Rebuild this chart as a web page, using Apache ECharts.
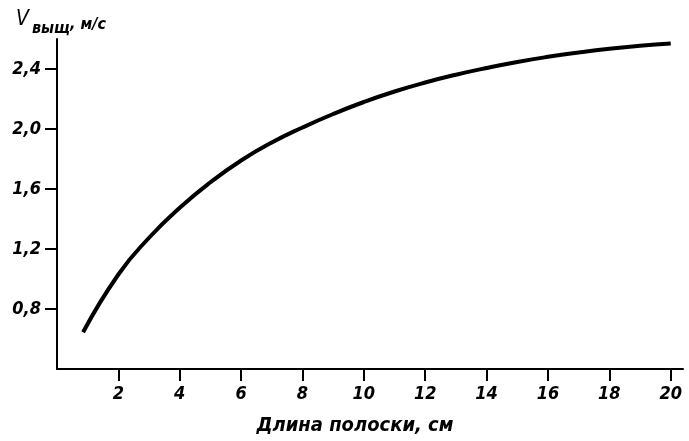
<!DOCTYPE html>
<html>
<head>
<meta charset="utf-8">
<script src="https://cdn.jsdelivr.net/npm/echarts@6/dist/echarts.min.js"></script>
<style>html,body{margin:0;padding:0;background:#fff}#c{width:689px;height:441px}</style>
</head>
<body>
<div id="c"></div>
<script>
const lengthCm = [0.85, 2, 3, 4, 5, 6, 7, 8, 9, 10, 11, 12, 13, 14, 15, 16, 17, 18, 19, 20];
const velocity = [0.645, 1.03, 1.275, 1.475, 1.645, 1.79, 1.91, 2.01, 2.1, 2.18, 2.25, 2.31, 2.362, 2.407, 2.447, 2.481, 2.51, 2.535, 2.555, 2.57];
const xTicks = [2, 4, 6, 8, 10, 12, 14, 16, 18, 20];
const yTicks = [0.8, 1.2, 1.6, 2.0, 2.4];
const xName = 'Длина полоски, см';

const FONT = '"DejaVu Sans Condensed", "DejaVu Sans", sans-serif';
const chart = echarts.init(document.getElementById('c'), null, {renderer: 'canvas'});
chart.setOption({
  animation: false,
  backgroundColor: '#fff',
  grid: {left: 57, right: 6, top: 39, bottom: 63, containLabel: false},
  xAxis: {
    type: 'value', min: 0, max: 20.4,
    name: xName, nameLocation: 'middle', nameGap: 47,
    nameTextStyle: {fontFamily: FONT, fontStyle: 'italic', fontWeight: 'bold', fontSize: 20, color: '#000', padding: [0, 30, 0, 0]},
    axisLine: {show: true, onZero: false, lineStyle: {color: '#000', width: 2}},
    axisTick: {show: true, customValues: xTicks, length: 12, lineStyle: {color: '#000', width: 2}},
    axisLabel: {customValues: xTicks, margin: 16, fontFamily: FONT, fontStyle: 'italic', fontWeight: 'bold', fontSize: 18, color: '#000',
      formatter: v => String(v)},
    splitLine: {show: false}
  },
  yAxis: {
    type: 'value', min: 0.4, max: 2.6,
    axisLine: {show: true, onZero: false, lineStyle: {color: '#000', width: 2}},
    axisTick: {show: true, customValues: yTicks, length: 12, lineStyle: {color: '#000', width: 2}},
    axisLabel: {customValues: yTicks, margin: 16, fontFamily: FONT, fontStyle: 'italic', fontWeight: 'bold', fontSize: 18, color: '#000',
      formatter: v => v.toFixed(1).replace('.', ',')},
    splitLine: {show: false}
  },
  graphic: [{
    type: 'text', left: 16, top: 9,
    style: {
      text: '{v|V}{s|выщ}{u|, м/с}',
      rich: {
        v: {fontFamily: FONT, fontStyle: 'italic', fontSize: 21, fill: '#000', verticalAlign: 'top'},
        s: {fontFamily: FONT, fontStyle: 'italic', fontWeight: 'bold', fontSize: 16, fill: '#000', padding: [12, 0, 0, 3]},
        u: {fontFamily: FONT, fontStyle: 'italic', fontWeight: 'bold', fontSize: 16, fill: '#000', padding: [3, 0, 0, 0]}
      }
    }
  }],
  series: [{
    type: 'line', smooth: true, symbol: 'none',
    data: lengthCm.map((x, i) => [x, velocity[i]]),
    lineStyle: {color: '#000', width: 4}
  }]
});
</script>
</body>
</html>
